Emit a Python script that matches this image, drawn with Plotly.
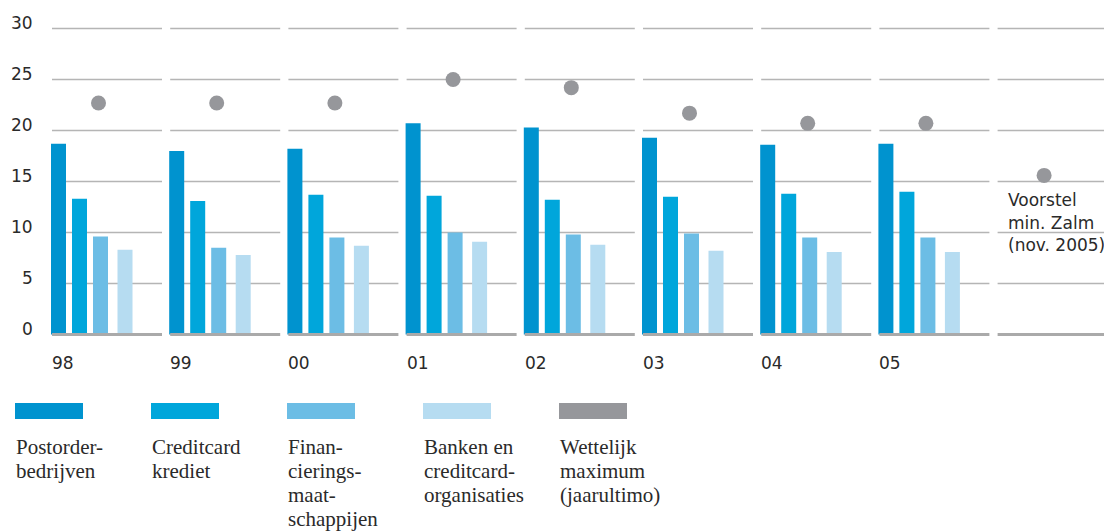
import plotly.graph_objects as go

# Effective interest rates per lender type, year-end (%)
years = ["98", "99", "00", "01", "02", "03", "04", "05"]
postorder = [18.7, 18.0, 18.2, 20.7, 20.3, 19.3, 18.6, 18.7]
creditcard = [13.3, 13.1, 13.7, 13.6, 13.2, 13.5, 13.8, 14.0]
financiering = [9.6, 8.5, 9.5, 10.0, 9.8, 9.9, 9.5, 9.5]
banken = [8.3, 7.8, 8.7, 9.1, 8.8, 8.2, 8.1, 8.1]
# Statutory maximum per year plus the Zalm proposal (extra last slot)
maximum = [22.7, 22.7, 22.7, 25.0, 24.2, 21.7, 20.7, 20.7, 15.6]
proposal_text = ["Voorstel", "min. Zalm", "(nov. 2005)"]
y_ticks = [0, 5, 10, 15, 20, 25, 30]

legend_labels = [
    ["Postorder-", "bedrijven"],
    ["Creditcard", "krediet"],
    ["Finan-", "cierings-", "maat-", "schappijen"],
    ["Banken en", "creditcard-", "organisaties"],
    ["Wettelijk", "maximum", "(jaarultimo)"],
]
colors = ["#0093CF", "#00A6DB", "#6CBDE5", "#B6DCF1", "#96979B"]

W, H = 1104, 532
M_T, M_B = 18, 187
PITCH = 118.2          # pixels per year group
X0 = 51                # left edge of first group
SANS = "DejaVu Sans"
SERIF = "Liberation Serif"
TEXT = "#2a2a2a"
GRID = "#b5b5b5"

n_groups = len(years) + 1
plot_h = H - M_T - M_B


def u(px):
    """pixel offset inside a group -> x-axis units"""
    return px / PITCH


def paper_x(px):
    return px / W


def paper_y(py):
    return (H - M_B - py) / plot_h


fig = go.Figure()

series = [postorder, creditcard, financiering, banken]
names = [" ".join(l) for l in legend_labels[:4]]
bar_centers = [7.5, 28.5, 49.5, 74.0]
for vals, name, col, c in zip(series, names, colors, bar_centers):
    fig.add_trace(go.Bar(
        x=[i + u(c) for i in range(len(vals))],
        y=vals,
        width=u(15),
        marker=dict(color=col, line=dict(width=0)),
        name=name,
        showlegend=False,
    ))

fig.add_trace(go.Scatter(
    x=[i + u(47.5) for i in range(len(maximum))],
    y=maximum,
    mode="markers",
    marker=dict(color=colors[4], size=15),
    name=" ".join(legend_labels[4]),
    showlegend=False,
))

shapes = []
annotations = []

# per-group gridline segments
for g in range(n_groups):
    x_start = g + u(1)
    x_end = g + u(111) if g < n_groups - 1 else g + u(130)
    for t in y_ticks:
        shapes.append(dict(
            type="line", xref="x", yref="y",
            x0=x_start, x1=x_end, y0=t, y1=t,
            line=dict(color=GRID if t else "#aaaaaa", width=1.4 if t else 3),
            layer="below" if t else "above",
        ))

# y tick labels
for t in y_ticks:
    annotations.append(dict(
        xref="paper", yref="y", x=paper_x(35), y=t,
        text=str(t), showarrow=False, xanchor="right", yanchor="middle",
        yshift=6, font=dict(family=SANS, size=17, color=TEXT),
    ))

# year labels
for i, yr in enumerate(years):
    annotations.append(dict(
        xref="x", yref="paper", x=i, y=paper_y(363),
        text=yr, showarrow=False, xanchor="left", yanchor="middle",
        xshift=-1, font=dict(family=SANS, size=17, color=TEXT),
    ))

# proposal note
for k, line in enumerate(proposal_text):
    annotations.append(dict(
        xref="x", yref="paper", x=len(years) + u(9), y=paper_y(200 + 22.5 * k),
        text=line, showarrow=False, xanchor="left", yanchor="middle",
        font=dict(family=SANS, size=17, color=TEXT),
    ))

# legend swatches and labels
LEG_PITCH = 136
for k, (lines, col) in enumerate(zip(legend_labels, colors)):
    left = 15 + LEG_PITCH * k
    shapes.append(dict(
        type="rect", xref="paper", yref="paper",
        x0=paper_x(left), x1=paper_x(left + 68),
        y0=paper_y(419), y1=paper_y(403),
        fillcolor=col, line=dict(width=0),
    ))
    for j, line in enumerate(lines):
        annotations.append(dict(
            xref="paper", yref="paper", x=paper_x(left), y=paper_y(447 + 24 * j),
            text=line, showarrow=False, xanchor="left", yanchor="middle",
            xshift=-1, font=dict(family=SERIF, size=21, color=TEXT),
        ))

y_span = plot_h / 10.2
fig.update_layout(
    width=W, height=H,
    margin=dict(l=0, r=0, t=M_T, b=M_B, pad=0),
    paper_bgcolor="white", plot_bgcolor="white",
    barmode="overlay",
    xaxis=dict(range=[-X0 / PITCH, (W - X0) / PITCH], visible=False,
               fixedrange=True),
    yaxis=dict(range=[31.03 - y_span, 31.03], visible=False, fixedrange=True),
    shapes=shapes,
    annotations=annotations,
    showlegend=False,
)

fig.write_html("out.html")
